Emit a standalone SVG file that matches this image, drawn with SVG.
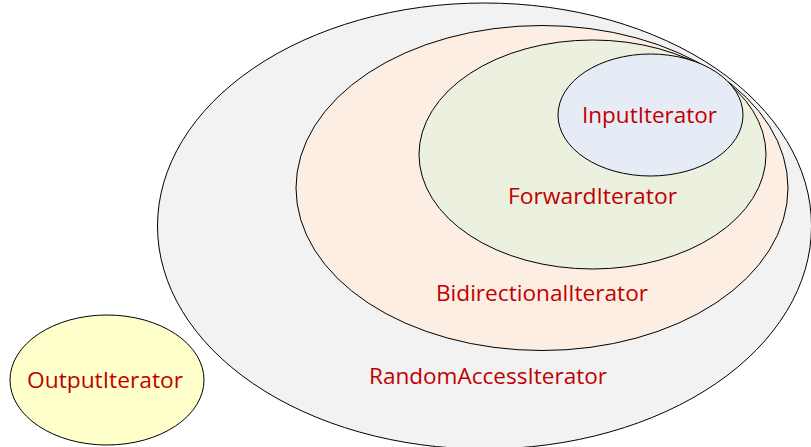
<svg xmlns="http://www.w3.org/2000/svg" width="811" height="447" viewBox="0 0 811 447">
<style>
.e{stroke:#000;stroke-width:1}
.t{font-family:"Open Sans","Liberation Sans",Arial,sans-serif;font-size:22px;fill:#C00000;text-anchor:start}
</style>
<rect width="811" height="447" fill="#fff"/>
<g id="random-access">
<ellipse class="e" cx="484.5" cy="226" rx="327" ry="223" fill="#F2F2F2"/>
<text class="t" x="369" y="384" textLength="238" lengthAdjust="spacingAndGlyphs">RandomAccessIterator</text>
</g>
<g id="bidirectional">
<ellipse class="e" cx="542" cy="188" rx="246" ry="162.5" fill="#FDEEE4"/>
<text class="t" x="436" y="301" textLength="212" lengthAdjust="spacingAndGlyphs">BidirectionalIterator</text>
</g>
<g id="forward">
<ellipse class="e" cx="592.5" cy="154.5" rx="173.5" ry="114.5" fill="#EBF0DF"/>
<text class="t" x="508" y="204" textLength="169" lengthAdjust="spacingAndGlyphs">ForwardIterator</text>
</g>
<g id="input">
<ellipse class="e" cx="650.5" cy="115" rx="92.5" ry="61" fill="#E6ECF6"/>
<text class="t" x="582" y="123" textLength="135" lengthAdjust="spacingAndGlyphs">InputIterator</text>
</g>
<g id="output">
<ellipse class="e" cx="107" cy="380" rx="97" ry="65" fill="#FFFFCC"/>
<text class="t" x="27" y="388" textLength="156" lengthAdjust="spacingAndGlyphs">OutputIterator</text>
</g>
<g id="connectors"/>
</svg>
